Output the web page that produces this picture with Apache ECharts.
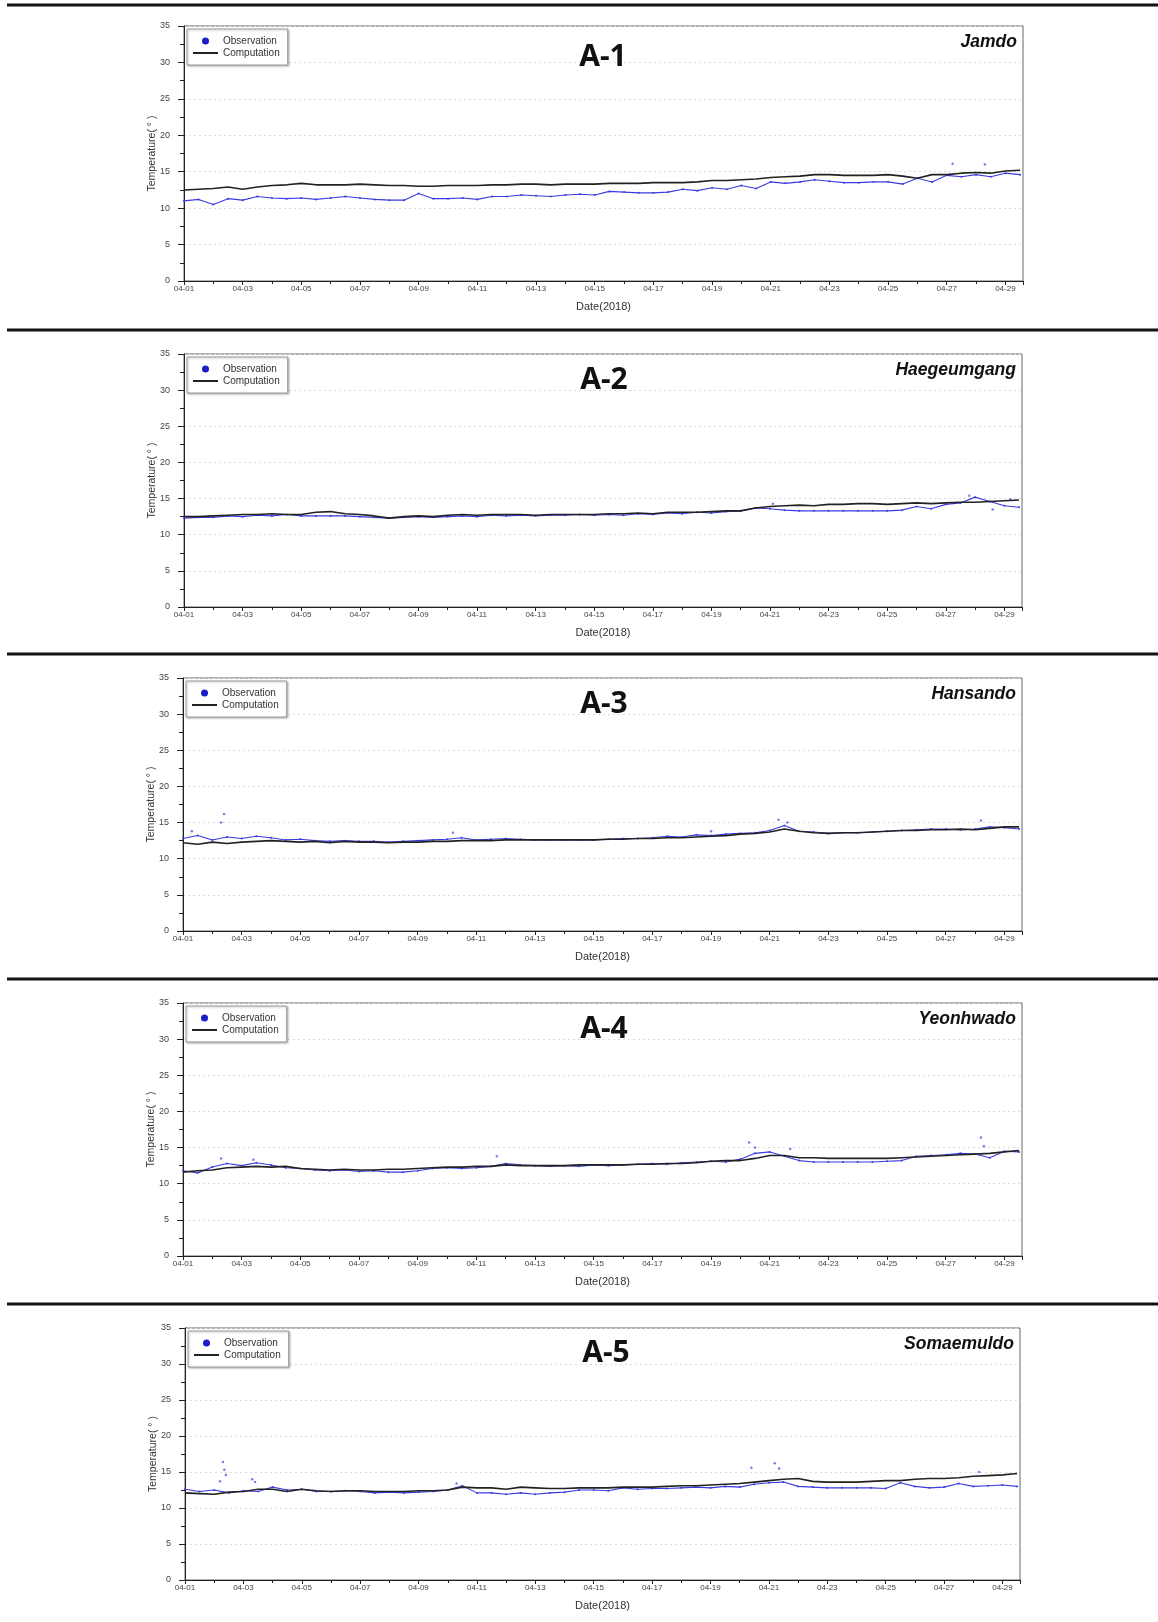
<!DOCTYPE html>
<html>
<head>
<meta charset="utf-8">
<title>Temperature A-1 ~ A-5</title>
<script src="https://cdn.jsdelivr.net/npm/echarts@6/dist/echarts.min.js"></script>
<style>
    html, body { margin: 0; padding: 0; background: #fff; }
    #chart { width: 1158px; height: 1622px; }
</style>
</head>
<body>
<div id="chart"></div>
<script>
// sample times, days after 2018-04-01 00:00
var days = [0, 0.5, 1, 1.5, 2, 2.5, 3, 3.5, 4, 4.5,
    5, 5.5, 6, 6.5, 7, 7.5, 8, 8.5, 9, 9.5,
    10, 10.5, 11, 11.5, 12, 12.5, 13, 13.5, 14, 14.5,
    15, 15.5, 16, 16.5, 17, 17.5, 18, 18.5, 19, 19.5,
    20, 20.5, 21, 21.5, 22, 22.5, 23, 23.5, 24, 24.5,
    25, 25.5, 26, 26.5, 27, 27.5, 28, 28.5];

// labels for the major ticks (every 2 days)
var xTickLabels = ['04-01', '04-03', '04-05', '04-07', '04-09', '04-11', '04-13', '04-15',
    '04-17', '04-19', '04-21', '04-23', '04-25', '04-27', '04-29'];

var panelTags = ['A-1', 'A-2', 'A-3', 'A-4', 'A-5'];
var stations = ['Jamdo', 'Haegeumgang', 'Hansando', 'Yeonhwado', 'Somaemuldo'];

// A-1 Jamdo
var comp1 = [12.5, 12.6, 12.7, 12.9, 12.6, 12.9, 13.1, 13.2, 13.4, 13.2,
    13.2, 13.2, 13.3, 13.2, 13.1, 13.1, 13.0, 13.0, 13.1, 13.1,
    13.1, 13.2, 13.2, 13.3, 13.3, 13.2, 13.3, 13.3, 13.3, 13.4,
    13.4, 13.4, 13.5, 13.5, 13.5, 13.6, 13.8, 13.8, 13.9, 14.0,
    14.2, 14.3, 14.4, 14.6, 14.6, 14.5, 14.5, 14.5, 14.6, 14.4,
    14.1, 14.6, 14.6, 14.8, 14.9, 14.8, 15.1, 15.2];
var obs1 = [11.0, 11.2, 10.5, 11.3, 11.1, 11.6, 11.4, 11.3, 11.4, 11.2,
    11.4, 11.6, 11.4, 11.2, 11.1, 11.1, 12.0, 11.3, 11.3, 11.4,
    11.2, 11.6, 11.6, 11.8, 11.7, 11.6, 11.8, 11.9, 11.8, 12.3,
    12.2, 12.1, 12.1, 12.2, 12.6, 12.4, 12.8, 12.6, 13.1, 12.7,
    13.6, 13.4, 13.6, 13.9, 13.7, 13.5, 13.5, 13.6, 13.6, 13.3,
    14.1, 13.6, 14.5, 14.3, 14.6, 14.3, 14.8, 14.6];
var spikes1 = [[26.2, 16.1], [27.3, 16.0]];

// A-2 Haegeumgang
var comp2 = [12.5, 12.5, 12.6, 12.7, 12.8, 12.8, 12.9, 12.8, 12.8, 13.1,
    13.2, 12.9, 12.8, 12.6, 12.3, 12.5, 12.6, 12.5, 12.7, 12.8,
    12.7, 12.8, 12.8, 12.8, 12.7, 12.8, 12.8, 12.8, 12.8, 12.9,
    12.9, 13.0, 12.9, 13.1, 13.1, 13.1, 13.2, 13.3, 13.3, 13.7,
    13.9, 14.0, 14.1, 14.0, 14.2, 14.2, 14.3, 14.3, 14.2, 14.3,
    14.4, 14.3, 14.4, 14.5, 14.5, 14.6, 14.7, 14.8];
var obs2 = [12.3, 12.4, 12.4, 12.6, 12.5, 12.7, 12.6, 12.8, 12.6, 12.6,
    12.6, 12.6, 12.5, 12.4, 12.3, 12.4, 12.5, 12.4, 12.5, 12.6,
    12.5, 12.7, 12.6, 12.7, 12.6, 12.7, 12.7, 12.8, 12.7, 12.8,
    12.7, 12.9, 12.8, 13.0, 12.9, 13.1, 13.0, 13.2, 13.3, 13.7,
    13.6, 13.4, 13.3, 13.3, 13.3, 13.3, 13.3, 13.3, 13.3, 13.4,
    13.9, 13.6, 14.2, 14.4, 15.2, 14.6, 14.0, 13.8];
var spikes2 = [[20.1, 14.3], [26.8, 15.4], [27.6, 13.5], [28.2, 14.9]];

// A-3 Hansando
var comp3 = [12.2, 12.0, 12.3, 12.1, 12.3, 12.4, 12.5, 12.4, 12.3, 12.4,
    12.2, 12.4, 12.3, 12.3, 12.2, 12.3, 12.3, 12.4, 12.4, 12.5,
    12.5, 12.5, 12.6, 12.6, 12.6, 12.6, 12.6, 12.6, 12.6, 12.7,
    12.7, 12.8, 12.8, 12.9, 12.9, 13.0, 13.1, 13.2, 13.4, 13.5,
    13.7, 14.1, 13.8, 13.6, 13.5, 13.6, 13.6, 13.7, 13.8, 13.9,
    13.9, 14.0, 14.0, 14.1, 14.0, 14.2, 14.4, 14.4];
var obs3 = [12.8, 13.2, 12.6, 13.0, 12.8, 13.1, 12.9, 12.6, 12.7, 12.5,
    12.4, 12.5, 12.4, 12.4, 12.3, 12.4, 12.5, 12.6, 12.7, 12.9,
    12.6, 12.7, 12.8, 12.7, 12.6, 12.6, 12.6, 12.6, 12.6, 12.7,
    12.8, 12.8, 12.9, 13.1, 13.0, 13.3, 13.2, 13.4, 13.5, 13.6,
    13.9, 14.6, 13.8, 13.7, 13.5, 13.6, 13.6, 13.7, 13.8, 13.9,
    14.0, 14.1, 14.1, 14.0, 14.1, 14.4, 14.3, 14.1];
var spikes3 = [[1.4, 16.2], [1.3, 15.0], [0.3, 13.8], [9.2, 13.6], [18.0, 13.8],
    [20.3, 15.4], [20.6, 15.0], [27.2, 15.3]];

// A-4 Yeonhwado
var comp4 = [11.6, 11.8, 11.9, 12.2, 12.3, 12.4, 12.3, 12.4, 12.1, 12.0,
    11.9, 12.0, 11.9, 11.9, 12.0, 12.0, 12.1, 12.2, 12.3, 12.3,
    12.4, 12.4, 12.6, 12.5, 12.5, 12.5, 12.5, 12.6, 12.6, 12.6,
    12.6, 12.7, 12.7, 12.8, 12.8, 12.9, 13.1, 13.2, 13.2, 13.5,
    13.9, 13.9, 13.6, 13.6, 13.5, 13.5, 13.5, 13.5, 13.5, 13.6,
    13.7, 13.8, 13.9, 14.0, 14.1, 14.2, 14.4, 14.6];
var obs4 = [11.8, 11.5, 12.3, 12.8, 12.5, 12.9, 12.6, 12.2, 12.1, 11.9,
    11.8, 11.9, 11.7, 11.8, 11.6, 11.6, 11.8, 12.1, 12.2, 12.1,
    12.2, 12.4, 12.8, 12.6, 12.5, 12.4, 12.5, 12.4, 12.6, 12.5,
    12.6, 12.7, 12.8, 12.7, 12.9, 13.0, 13.1, 13.0, 13.4, 14.2,
    14.4, 13.8, 13.2, 13.0, 13.0, 13.0, 13.0, 13.0, 13.1, 13.2,
    13.8, 13.9, 14.0, 14.2, 14.1, 13.6, 14.5, 14.4];
var spikes4 = [[1.3, 13.5], [2.4, 13.3], [10.7, 13.8], [19.3, 15.7], [19.5, 15.0],
    [20.7, 14.8], [27.2, 16.4], [27.3, 15.2]];

// A-5 Somaemuldo
var comp5 = [12.1, 12.0, 11.9, 12.2, 12.3, 12.6, 12.6, 12.3, 12.6, 12.4,
    12.3, 12.4, 12.4, 12.3, 12.3, 12.3, 12.4, 12.4, 12.5, 12.9,
    12.8, 12.8, 12.6, 12.9, 12.8, 12.7, 12.7, 12.8, 12.8, 12.8,
    12.9, 12.9, 12.9, 13.0, 13.1, 13.1, 13.2, 13.3, 13.4, 13.6,
    13.8, 14.0, 14.1, 13.7, 13.6, 13.6, 13.6, 13.7, 13.8, 13.8,
    14.0, 14.1, 14.1, 14.2, 14.4, 14.5, 14.6, 14.8];
var obs5 = [12.6, 12.3, 12.5, 12.1, 12.4, 12.3, 12.9, 12.5, 12.6, 12.3,
    12.3, 12.4, 12.3, 12.1, 12.2, 12.1, 12.2, 12.3, 12.5, 13.1,
    12.1, 12.1, 11.9, 12.1, 11.9, 12.1, 12.2, 12.5, 12.5, 12.4,
    12.8, 12.6, 12.7, 12.7, 12.8, 12.9, 12.8, 13.0, 12.9, 13.3,
    13.5, 13.6, 13.0, 12.9, 12.8, 12.8, 12.8, 12.8, 12.7, 13.5,
    13.0, 12.8, 12.9, 13.4, 13.0, 13.1, 13.2, 13.0];
var spikes5 = [[1.3, 16.4], [1.35, 15.3], [1.4, 14.6], [1.2, 13.7], [2.3, 14.0], [2.4, 13.6],
    [9.3, 13.4], [19.4, 15.6], [20.2, 16.2], [20.35, 15.5], [27.2, 15.0]];

var comps = [comp1, comp2, comp3, comp4, comp5];
var obss = [obs1, obs2, obs3, obs4, obs5];
var spikes = [spikes1, spikes2, spikes3, spikes4, spikes5];

// plot boxes [left, top, width, height] and separator rows
var boxes = [[184, 26, 839, 255], [184, 354, 838, 253], [183, 678, 839, 253],
    [183, 1003, 839, 253], [185, 1328, 835, 252]];
var seps = [5, 330, 654, 979, 1304];
var tagPos = [[603, 57], [604, 380], [604, 704], [604, 1029], [606, 1353]];

var BLUE = '#3b3bdf';
var BLACK = '#222';

function pairs(ys) {
    return ys.map(function (v, i) { return [days[i], v]; });
}

var chart = echarts.init(document.getElementById('chart'));

var grid = [], xAxis = [], yAxis = [], series = [], legend = [], graphic = [];

boxes.forEach(function (b, k) {
    grid.push({
        left: b[0], top: b[1], width: b[2], height: b[3],
        show: true, borderColor: '#666', borderWidth: 1
    });
    xAxis.push({
        type: 'value', gridIndex: k, min: 0, max: 28.6, interval: 2,
        name: 'Date(2018)', nameLocation: 'middle', nameGap: 20,
        nameTextStyle: { fontFamily: 'Liberation Sans', fontSize: 11, color: '#333' },
        axisLine: { lineStyle: { color: BLACK, width: 1 } },
        axisTick: { length: 4, lineStyle: { color: BLACK } },
        minorTick: { show: true, splitNumber: 2, length: 3, lineStyle: { color: BLACK } },
        axisLabel: {
            fontFamily: 'Liberation Sans', fontSize: 8, color: '#444', margin: 4,
            showMaxLabel: false,
            formatter: function (v) {
                var i = v / 2;
                return Number.isInteger(i) && xTickLabels[i] ? xTickLabels[i] : '';
            }
        },
        splitLine: { show: false }
    });
    yAxis.push({
        type: 'value', gridIndex: k, min: 0, max: 35, interval: 5,
        name: 'Temperature( ° )', nameLocation: 'middle', nameGap: 26,
        nameMoveOverlap: false,
        nameTextStyle: { fontFamily: 'Liberation Sans', fontSize: 10.5, color: '#333' },
        axisLine: { show: true, lineStyle: { color: BLACK, width: 1 } },
        axisTick: { length: 6, lineStyle: { color: BLACK } },
        minorTick: { show: true, splitNumber: 2, length: 4, lineStyle: { color: BLACK } },
        axisLabel: { fontFamily: 'Liberation Sans', fontSize: 9, color: '#444', margin: 14 },
        splitLine: { show: true, lineStyle: { color: '#dcdcdc', type: [2, 3], width: 1 } }
    });
    series.push({
        name: 'Observation', type: 'line', xAxisIndex: k, yAxisIndex: k,
        data: pairs(obss[k]), symbol: 'circle', symbolSize: 2, showSymbol: true,
        lineStyle: { color: BLUE, width: 1.1 }, itemStyle: { color: BLUE },
        z: 2
    });
    series.push({
        name: 'Observation', type: 'scatter', xAxisIndex: k, yAxisIndex: k,
        data: spikes[k], symbolSize: 2.5, itemStyle: { color: '#5a5ae6' }, z: 2
    });
    series.push({
        name: 'Computation', type: 'line', xAxisIndex: k, yAxisIndex: k,
        data: pairs(comps[k]), symbol: 'none',
        lineStyle: { color: BLACK, width: 1.6 }, itemStyle: { color: BLACK },
        z: 3
    });
    legend.push({
        left: b[0] + 3, top: b[1] + 3, orient: 'vertical',
        data: [
            { name: 'Observation', icon: 'circle', itemStyle: { color: '#1c1cc8' } },
            { name: 'Computation', itemStyle: { opacity: 0 } }
        ],
        itemWidth: 25, itemHeight: 7, itemGap: 2,
        padding: [7, 8, 7, 5],
        backgroundColor: '#fff', borderColor: '#999', borderWidth: 1,
        shadowColor: 'rgba(0,0,0,0.25)', shadowBlur: 2, shadowOffsetX: 1, shadowOffsetY: 1,
        textStyle: { fontFamily: 'Liberation Sans', fontSize: 10, color: '#333' },
        selectedMode: false
    });

    // black separator above each panel
    graphic.push({
        type: 'rect', shape: { x: 7, y: seps[k] - 1.5, width: 1151, height: 3 },
        style: { fill: '#111' }, silent: true
    });
    // panel tag
    graphic.push({
        type: 'text', x: tagPos[k][0], y: tagPos[k][1],
        style: {
            text: panelTags[k], fontFamily: 'Noto Sans', fontWeight: 'bold', fontSize: 30,
            fill: '#111', align: 'center', verticalAlign: 'middle',
            shadowColor: 'rgba(0,0,0,0.35)', shadowBlur: 2, shadowOffsetX: 1, shadowOffsetY: 1
        },
        z: 10
    });
    // station name
    graphic.push({
        type: 'text', x: b[0] + b[2] - 6, y: b[1] + 16,
        style: {
            text: stations[k], fontFamily: 'Liberation Sans', fontWeight: 'bold',
            fontStyle: 'italic', fontSize: 17.5, fill: '#111',
            align: 'right', verticalAlign: 'middle'
        },
        z: 10
    });
});

chart.setOption({
    animation: false,
    backgroundColor: '#fff',
    grid: grid,
    xAxis: xAxis,
    yAxis: yAxis,
    legend: legend,
    series: series,
    graphic: graphic
});
</script>
</body>
</html>
